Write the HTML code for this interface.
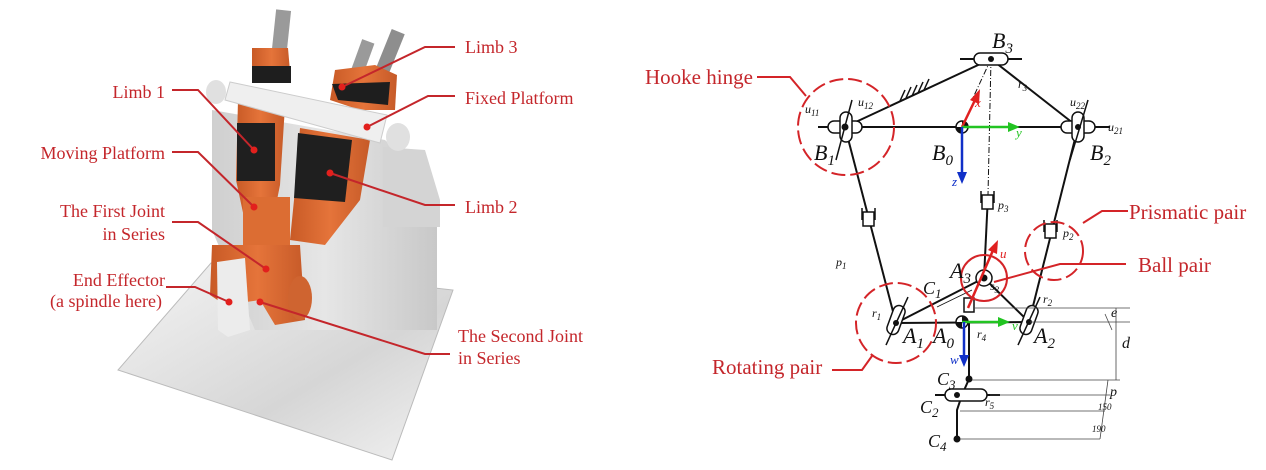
<!DOCTYPE html>
<html><head><meta charset="utf-8"><style>
html,body{margin:0;padding:0;background:#fff;width:1266px;height:470px;overflow:hidden}
svg{display:block}
.lab{font-family:"Liberation Serif",serif;fill:#c4262b;font-size:18px}
.it{font-family:"Liberation Serif",serif;font-style:italic;fill:#111}
</style></head><body>
<svg width="1266" height="470" viewBox="0 0 1266 470" xmlns="http://www.w3.org/2000/svg">
<defs>
<linearGradient id="pl" x1="0" y1="0" x2="1" y2="1"><stop offset="0" stop-color="#f4f4f4"/><stop offset="0.6" stop-color="#d6d6d6"/><stop offset="1" stop-color="#f2f2f2"/></linearGradient>
<linearGradient id="fr" x1="0" y1="0" x2="1" y2="0"><stop offset="0" stop-color="#cfcfcf"/><stop offset="0.5" stop-color="#e6e6e6"/><stop offset="1" stop-color="#c8c8c8"/></linearGradient>
<linearGradient id="or" x1="0" y1="0" x2="1" y2="0"><stop offset="0" stop-color="#c85a26"/><stop offset="0.5" stop-color="#e5743a"/><stop offset="1" stop-color="#c65a28"/></linearGradient>
</defs>
<!-- LEFT render -->
<polygon points="211,263 453,290 392,460 118,370" fill="url(#pl)" stroke="#bbb"/>
<polygon points="212,110 385,140 437,190 437,330 255,330 212,230" fill="url(#fr)"/>
<polygon points="383,147 425,150 440,200 440,227 383,227" fill="#d4d4d4"/>
<!-- rods -->
<rect x="274" y="10" width="15" height="42" fill="#9a9a9a" transform="rotate(6 281 30)"/>
<rect x="355" y="40" width="13" height="40" fill="#9a9a9a" transform="rotate(20 361 60)"/>
<rect x="383" y="30" width="14" height="45" fill="#8e8e8e" transform="rotate(22 390 52)"/>
<!-- limb tops -->
<polygon points="252,48 288,48 291,83 252,83" fill="url(#or)"/>
<rect x="252" y="66" width="39" height="17" fill="#1e1e1e"/>
<polygon points="335,70 375,65 397,75 395,110 360,110 330,100" fill="url(#or)"/>
<polygon points="332,84 390,82 388,105 338,100" fill="#1e1e1e"/>
<!-- limb1 lower -->
<polygon points="238,100 285,106 280,185 272,225 245,222 236,180" fill="url(#or)"/>
<rect x="237" y="123" width="38" height="58" fill="#1f1f1f"/>
<!-- limb2 -->
<polygon points="300,128 370,140 360,200 325,245 290,240 296,180" fill="url(#or)"/>
<polygon points="298,133 352,140 345,202 294,198" fill="#1f1f1f"/>
<!-- fixed platform -->
<polygon points="230,82 387,115 380,143 225,100" fill="#efefef" stroke="#ccc"/>
<ellipse cx="216" cy="92" rx="10" ry="12" fill="#e0e0e0"/>
<ellipse cx="398" cy="137" rx="12" ry="14" fill="#e0e0e0"/>
<!-- moving platform -->
<rect x="243" y="197" width="47" height="50" fill="#dc6d33"/>
<polygon points="212,245 300,245 305,320 275,325 260,300 225,305 210,295" fill="url(#or)"/>
<polygon points="217,262 245,258 250,330 228,337 218,330" fill="#ececec"/>
<ellipse cx="300" cy="298" rx="12" ry="22" fill="#cf6430"/>
<!-- left labels -->
<g class="lab">
<text x="465" y="53">Limb 3</text>
<text x="465" y="104">Fixed Platform</text>
<text x="465" y="213">Limb 2</text>
<text x="458" y="342">The Second Joint</text>
<text x="458" y="364">in Series</text>
<text x="165" y="98" text-anchor="end">Limb 1</text>
<text x="165" y="159" text-anchor="end">Moving Platform</text>
<text x="165" y="217" text-anchor="end">The First Joint</text>
<text x="165" y="240" text-anchor="end">in Series</text>
<text x="165" y="286" text-anchor="end">End Effector</text>
<text x="162" y="307" text-anchor="end">(a spindle here)</text>
</g>
<g stroke="#c4262b" stroke-width="2" fill="none">
<polyline points="455,47 425,47 342,87"/>
<polyline points="455,96 428,96 367,127"/>
<polyline points="455,205 425,205 330,173"/>
<polyline points="450,354 425,354 260,302"/>
<polyline points="172,90 198,90 254,150"/>
<polyline points="172,152 198,152 254,207"/>
<polyline points="172,222 198,222 266,269"/>
<polyline points="166,287 195,287 229,302"/>
</g>
<g fill="#e2201d"><circle cx="342" cy="87" r="3.5"/><circle cx="367" cy="127" r="3.5"/><circle cx="330" cy="173" r="3.5"/><circle cx="260" cy="302" r="3.5"/><circle cx="254" cy="150" r="3.5"/><circle cx="254" cy="207" r="3.5"/><circle cx="266" cy="269" r="3.5"/><circle cx="229" cy="302" r="3.5"/></g>

<!-- RIGHT diagram -->
<g stroke="#111" stroke-width="2" fill="none">
<line x1="991" y1="59" x2="845" y2="127"/>
<line x1="991" y1="59" x2="1078" y2="127"/>
<line x1="818" y1="127" x2="1110" y2="127"/>
<line x1="845" y1="127" x2="896" y2="323"/>
<line x1="1078" y1="127" x2="1029" y2="322"/>
<line x1="896" y1="323" x2="1029" y2="322"/>
<line x1="984" y1="278" x2="896" y2="323"/>
<line x1="984" y1="278" x2="1029" y2="322"/>
<line x1="988" y1="195" x2="984" y2="278"/>
<line x1="969" y1="322" x2="969" y2="379"/>
<polyline points="969,379 962,395 957,410 957,439"/>
<line x1="960" y1="59" x2="1022" y2="59"/>
<line x1="935" y1="395" x2="1000" y2="395"/>
</g>
<g stroke="#111" stroke-width="1.5">
<line x1="900" y1="101" x2="905" y2="90"/><line x1="906" y1="98" x2="911" y2="87"/><line x1="912" y1="96" x2="917" y2="85"/><line x1="918" y1="93" x2="923" y2="82"/><line x1="924" y1="90" x2="929" y2="79"/>
</g>
<g stroke="#111" stroke-width="1" fill="none" stroke-dasharray="6,2,1,2">
<line x1="991" y1="59" x2="988" y2="195"/>
<line x1="991" y1="59" x2="972" y2="100"/>
</g>
<g stroke="#111" stroke-width="1.5" fill="#fff">
<rect x="974" y="53" width="34" height="12" rx="6"/>
<rect x="828" y="121" width="34" height="12" rx="6"/>
<rect x="840" y="112" width="12" height="30" rx="6"/>
<rect x="1061" y="121" width="34" height="12" rx="6"/>
<rect x="1072" y="112" width="12" height="30" rx="6"/>
<rect x="863" y="212" width="11" height="14"/>
<rect x="982" y="195" width="11" height="14"/>
<rect x="1045" y="224" width="11" height="14"/>
<rect x="890" y="305" width="12" height="30" rx="6" transform="rotate(20 896 320)"/>
<rect x="1023" y="305" width="12" height="30" rx="6" transform="rotate(20 1029 320)"/>
<rect x="964" y="298" width="10" height="14"/>
<rect x="945" y="389" width="42" height="12" rx="6"/>
<circle cx="984" cy="278" r="8"/>
<circle cx="962" cy="127" r="6"/>
<circle cx="962" cy="322" r="6"/>
</g>
<g stroke="#111" stroke-width="1.5">
<line x1="862" y1="208" x2="862" y2="220"/><line x1="875" y1="208" x2="875" y2="220"/>
<line x1="981" y1="191" x2="981" y2="203"/><line x1="994" y1="191" x2="994" y2="203"/>
<line x1="1044" y1="220" x2="1044" y2="232"/><line x1="1057" y1="220" x2="1057" y2="232"/>
<line x1="908" y1="297" x2="886" y2="345"/><line x1="1040" y1="297" x2="1018" y2="345"/>
<line x1="852" y1="100" x2="836" y2="160"/><line x1="1088" y1="100" x2="1070" y2="160"/>
<line x1="937" y1="307" x2="972" y2="290" stroke-width="0.8"/>
</g>
<g fill="#111"><circle cx="991" cy="59" r="3"/><circle cx="845" cy="127" r="3.5"/><circle cx="1078" cy="127" r="3"/><circle cx="984" cy="278" r="3.5"/><circle cx="896" cy="323" r="3"/><circle cx="1029" cy="322" r="3"/><circle cx="969" cy="379" r="3.5"/><circle cx="957" cy="439" r="3.5"/><circle cx="957" cy="395" r="3"/>
<path d="M962 121 A6 6 0 0 1 968 127 L962 127 Z M962 133 A6 6 0 0 1 956 127 L962 127 Z"/>
<path d="M962 316 A6 6 0 0 1 968 322 L962 322 Z M962 328 A6 6 0 0 1 956 322 L962 322 Z"/></g>
<g stroke="#444" stroke-width="0.8">
<line x1="975" y1="308" x2="1130" y2="308"/><line x1="1030" y1="322" x2="1130" y2="322"/>
<line x1="972" y1="380" x2="1120" y2="380"/><line x1="990" y1="395" x2="1110" y2="395"/>
<line x1="960" y1="411" x2="1105" y2="411"/><line x1="960" y1="439" x2="1100" y2="439"/>
<line x1="1116" y1="308" x2="1116" y2="380"/><line x1="1108" y1="380" x2="1100" y2="439"/>
<line x1="1112" y1="330" x2="1105" y2="314"/>
</g>
<g stroke-width="2.5" fill="none">
<line x1="962" y1="127" x2="976" y2="98" stroke="#e02020"/>
<line x1="962" y1="127" x2="1012" y2="127" stroke="#22c422"/>
<line x1="962" y1="127" x2="962" y2="175" stroke="#1030c8"/>
<line x1="968" y1="308" x2="994" y2="248" stroke="#e02020"/>
<line x1="962" y1="322" x2="1002" y2="322" stroke="#22c422"/>
<line x1="964" y1="322" x2="964" y2="358" stroke="#1030c8"/>
</g>
<polygon points="980,89 979,104 970,100" fill="#e02020"/>
<polygon points="1020,127 1008,122 1008,132" fill="#22c422"/>
<polygon points="962,184 957,172 967,172" fill="#1030c8"/>
<polygon points="998,240 997,254 988,250" fill="#e02020"/>
<polygon points="1010,322 998,317 998,327" fill="#22c422"/>
<polygon points="964,367 959,355 969,355" fill="#1030c8"/>
<g stroke="#d42428" stroke-width="2" fill="none" stroke-dasharray="14,5">
<circle cx="846" cy="127" r="48"/>
<circle cx="896" cy="323" r="40"/>
<circle cx="1054" cy="251" r="29"/>
</g>
<circle cx="984" cy="278" r="23" stroke="#d42428" stroke-width="2" fill="none"/>
<g stroke="#d42428" stroke-width="2" fill="none">
<polyline points="757,77 790,77 806,96"/>
<polyline points="832,370 862,370 872,356"/>
<polyline points="1128,211 1102,211 1083,223"/>
<polyline points="1126,264 1060,264 994,282"/>
</g>
<g class="lab" style="font-size:21px">
<text x="645" y="84">Hooke hinge</text>
<text x="712" y="374">Rotating pair</text>
<text x="1129" y="219">Prismatic pair</text>
<text x="1138" y="272">Ball pair</text>
</g>
<g class="it" font-size="22">
<text x="992" y="48">B<tspan font-size="15" dy="5">3</tspan></text>
<text x="814" y="160">B<tspan font-size="15" dy="5">1</tspan></text>
<text x="932" y="160">B<tspan font-size="15" dy="5">0</tspan></text>
<text x="1090" y="160">B<tspan font-size="15" dy="5">2</tspan></text>
<text x="950" y="278">A<tspan font-size="15" dy="5">3</tspan></text>
<text x="903" y="343">A<tspan font-size="15" dy="5">1</tspan></text>
<text x="933" y="343">A<tspan font-size="15" dy="5">0</tspan></text>
<text x="1034" y="343">A<tspan font-size="15" dy="5">2</tspan></text>
<text x="923" y="294" font-size="18">C<tspan font-size="13" dy="4">1</tspan></text>
<text x="937" y="385" font-size="18">C<tspan font-size="13" dy="4">3</tspan></text>
<text x="920" y="413" font-size="18">C<tspan font-size="13" dy="4">2</tspan></text>
<text x="928" y="447" font-size="18">C<tspan font-size="13" dy="4">4</tspan></text>
</g>
<g class="it" font-size="12">
<text x="805" y="113">u<tspan font-size="9" dy="3">11</tspan></text>
<text x="858" y="106">u<tspan font-size="9" dy="3">12</tspan></text>
<text x="1070" y="106">u<tspan font-size="9" dy="3">22</tspan></text>
<text x="1108" y="131">u<tspan font-size="9" dy="3">21</tspan></text>
<text x="1018" y="88">r<tspan font-size="9" dy="3">3</tspan></text>
<text x="836" y="266">p<tspan font-size="9" dy="3">1</tspan></text>
<text x="998" y="209">p<tspan font-size="9" dy="3">3</tspan></text>
<text x="1063" y="237">p<tspan font-size="9" dy="3">2</tspan></text>
<text x="872" y="317">r<tspan font-size="9" dy="3">1</tspan></text>
<text x="1043" y="303">r<tspan font-size="9" dy="3">2</tspan></text>
<text x="977" y="338">r<tspan font-size="9" dy="3">4</tspan></text>
<text x="985" y="406">r<tspan font-size="9" dy="3">5</tspan></text>
<text x="990" y="290">s<tspan font-size="9" dy="3">3</tspan></text>
<text x="975" y="107" font-size="13" style="fill:#e02020">x</text>
<text x="1016" y="137" style="fill:#22c422" font-size="13">y</text>
<text x="952" y="186" style="fill:#1030c8" font-size="13">z</text>
<text x="1000" y="258" style="fill:#e02020" font-size="13">u</text>
<text x="1012" y="330" style="fill:#22c422" font-size="13">v</text>
<text x="950" y="364" style="fill:#1030c8" font-size="13">w</text>
<text x="1122" y="348" font-size="16">d</text>
<text x="1111" y="317" font-size="14">e</text>
<text x="1110" y="396" font-size="14">p</text>
<text x="1098" y="410" font-size="9">150</text>
<text x="1092" y="432" font-size="9">190</text>
</g>
</svg>
</body></html>
